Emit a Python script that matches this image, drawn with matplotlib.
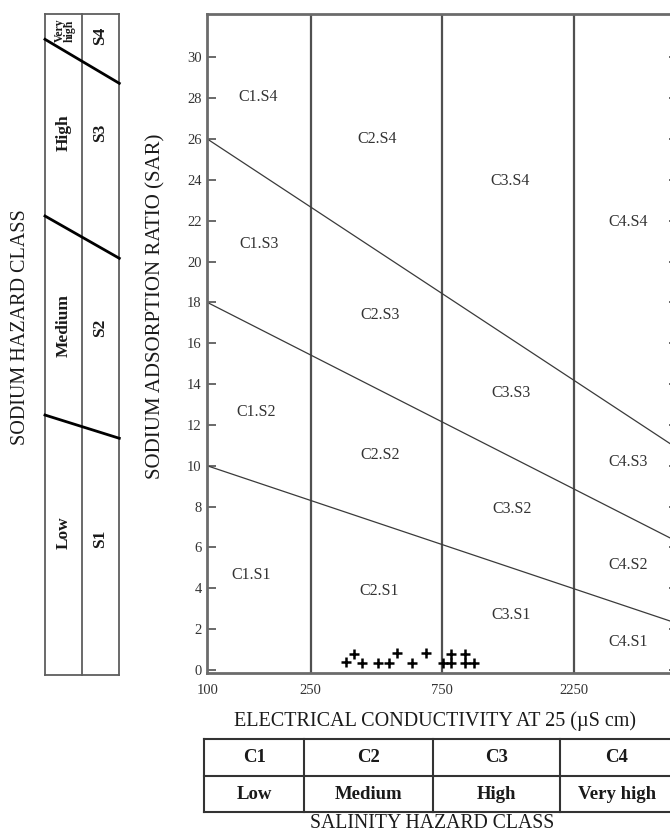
#!/usr/bin/env python3
"""USSL salinity / sodium hazard diagram (SAR vs EC)."""

import matplotlib

matplotlib.use("Agg")
import matplotlib.pyplot as plt
import numpy as np
from matplotlib.lines import Line2D
from matplotlib.ticker import NullLocator

plt.rcParams["font.family"] = ["Liberation Serif", "DejaVu Serif"]

# ---- data -------------------------------------------------------------
EC_CLASS_BOUNDS = [250, 750, 2250]           # vertical class limits (uS/cm)
EC_RANGE = [100, 5000]
SAR_TICKS = list(range(0, 31, 2))

# sloped sodium-hazard limits: SAR at EC=100 and EC=5000
S_LINE_EC = [100, 5000]
S1_S2_SAR = [10.0, 2.27]
S2_S3_SAR = [18.0, 6.27]
S3_S4_SAR = [26.0, 10.83]

# samples
SAMPLE_EC = [336, 360, 385, 437, 482, 512, 582, 654, 757, 804, 804, 906, 906, 977]
SAMPLE_SAR = [0.38, 0.80, 0.34, 0.34, 0.34, 0.83, 0.34, 0.83, 0.34, 0.34, 0.80, 0.80, 0.34, 0.34]

ZONE_NAMES = ["C1.S4", "C2.S4", "C1.S3", "C3.S4", "C4.S4", "C2.S3", "C1.S2", "C2.S2",
              "C1.S1", "C2.S1", "C3.S3", "C3.S2", "C3.S1", "C4.S3", "C4.S2", "C4.S1"]
ZONE_EC = [157, 434, 158, 1318, 3400, 446, 154, 447, 147, 443, 1335, 1346, 1335, 3400, 3400, 3400]
ZONE_SAR = [28.06, 26.0, 20.88, 23.96, 21.92, 17.4, 12.62, 10.54, 4.67, 3.85, 13.56, 7.88, 2.71,
            10.2, 5.16, 1.35]

SALINITY_CLASSES = ["C1", "C2", "C3", "C4"]
SALINITY_LEVELS = ["Low", "Medium", "High", "Very high"]
SODIUM_CLASSES = ["S1", "S2", "S3", "S4"]
SODIUM_LEVELS = ["Low", "Medium", "High", "Very\nhigh"]

# ---- x scale: class widths as drawn in the original chart --------------
LOG_ANCHORS = np.log10([100, 250, 750, 2250, 5000])
POS_ANCHORS = np.array([0.0, 103.4, 235.0, 366.7, 470.7])


def ec_forward(v):
    v = np.asarray(v, dtype=float)
    with np.errstate(divide="ignore", invalid="ignore"):
        lv = np.log10(np.where(v > 0, v, 1e-9))
    return np.interp(lv, LOG_ANCHORS, POS_ANCHORS)


def ec_inverse(p):
    return 10 ** np.interp(np.asarray(p, dtype=float), POS_ANCHORS, LOG_ANCHORS)


W, H = 670, 834
fig = plt.figure(figsize=(W / 100, H / 100), dpi=100)


def px_box(x0, y0, x1, y1):
    return [x0 / W, 1 - y1 / H, (x1 - x0) / W, (y1 - y0) / H]


GRAY = "#5e5e5e"
TXT = "#333333"

# ---- main plot --------------------------------------------------------
ax = fig.add_axes(px_box(207.3, 14, 678, 673.3))
ax.set_xscale("function", functions=(ec_forward, ec_inverse))
ax.set_xlim(*EC_RANGE)
ax.set_ylim(-0.16, 32.12)

for ec in EC_CLASS_BOUNDS:
    ax.axvline(ec, color="#505050", lw=1.6)

for sar in (S1_S2_SAR, S2_S3_SAR, S3_S4_SAR):
    ax.plot(S_LINE_EC, sar, color="#3a3a3a", lw=0.9)

ax.plot(SAMPLE_EC, SAMPLE_SAR, linestyle="none", marker="+", ms=7.5, mew=1.8, color="black")

for name, ec, sar in zip(ZONE_NAMES, ZONE_EC, ZONE_SAR):
    ax.text(ec, sar, name, ha="center", va="center", fontsize=11.5, color=TXT)

ax.set_xticks([EC_RANGE[0]] + EC_CLASS_BOUNDS)
ax.set_xticklabels([str(v) for v in [EC_RANGE[0]] + EC_CLASS_BOUNDS])
ax.xaxis.set_minor_locator(NullLocator())
ax.tick_params(axis="x", length=0, pad=8, labelsize=10.5, labelcolor=TXT)

ax.set_yticks(SAR_TICKS)
ax.yaxis.set_minor_locator(NullLocator())
ax.tick_params(axis="y", direction="in", length=6.5, width=1.3, color=GRAY,
               right=True, labelsize=10.5, labelcolor=TXT, pad=4)

for sp in ax.spines.values():
    sp.set_color("#6b6b6b")
    sp.set_linewidth(2.0)

ax.set_ylabel("SODIUM ADSORPTION RATIO (SAR)", fontsize=15, color="#1a1a1a")
ax.yaxis.set_label_coords(-0.088, 0.556)

fig.text(435 / W, 1 - 721 / H, "ELECTRICAL CONDUCTIVITY AT 25 (\u00b5S cm)",
         ha="center", va="center", fontsize=14.5, color="#1a1a1a")
fig.text(432 / W, 1 - 824 / H, "SALINITY HAZARD CLASS",
         ha="center", va="center", fontsize=14.2, color="#1a1a1a")

# ---- salinity hazard table (bottom) ----------------------------------
tb = fig.add_axes(px_box(204, 739, 674, 812))
tb.set_xlim(0, 1)
tb.set_ylim(0, 1)
tb.axis("off")
col_edges = [0.0, 0.2134, 0.4872, 0.7574, 1.0]
for y in (0.0, 0.5, 1.0):
    tb.add_line(Line2D([0, 1], [y, y], color="#333333", lw=1.5, clip_on=False))
for x in col_edges[:-1]:
    tb.add_line(Line2D([x, x], [0, 1], color="#333333", lw=1.5, clip_on=False))
for i, (cls, lvl) in enumerate(zip(SALINITY_CLASSES, SALINITY_LEVELS)):
    xc = (col_edges[i] + col_edges[i + 1]) / 2
    tb.text(xc, 0.753, cls, ha="center", va="center", fontsize=13.5, fontweight="bold", color="#1a1a1a")
    tb.text(xc, 0.233, lvl, ha="center", va="center", fontsize=13.5, fontweight="bold", color="#1a1a1a")

# ---- sodium hazard table (left) --------------------------------------
lt = fig.add_axes(px_box(45, 14, 119.3, 675))
lt.set_xlim(0, 1)
lt.set_ylim(0, 1)
lt.axis("off")
for x in (0.0, 0.494, 1.0):
    lt.add_line(Line2D([x, x], [0, 1], color=GRAY, lw=1.3, clip_on=False))
for y in (0.0, 1.0):
    lt.add_line(Line2D([0, 1], [y, y], color=GRAY, lw=1.3, clip_on=False))
slants = [(0.3933, 0.3581), (0.6944, 0.6304), (0.9617, 0.8951)]
for yl, yr in slants:
    lt.add_line(Line2D([0, 1], [yl, yr], color="black", lw=2.0, clip_on=False))

level_y = [0.2148, 0.5295, 0.820, 0.975]
class_y = [0.2057, 0.525, 0.820, 0.967]
for i in range(4):
    fs = 8.5 if i == 3 else 12.5
    lt.text(0.27 if i == 3 else 0.245, level_y[i], SODIUM_LEVELS[i], rotation=90, ha="center", va="center",
            fontsize=fs, fontweight="bold", color="#1a1a1a", linespacing=0.8)
    lt.text(0.74, class_y[i], SODIUM_CLASSES[i], rotation=90, ha="center", va="center",
            fontsize=12.5, fontweight="bold", color="#1a1a1a")

fig.text(20.5 / W, 1 - 327 / H, "SODIUM HAZARD CLASS", rotation=90,
         ha="center", va="center", fontsize=14.5, color="#1a1a1a")

fig.savefig("out.png", dpi=100)
